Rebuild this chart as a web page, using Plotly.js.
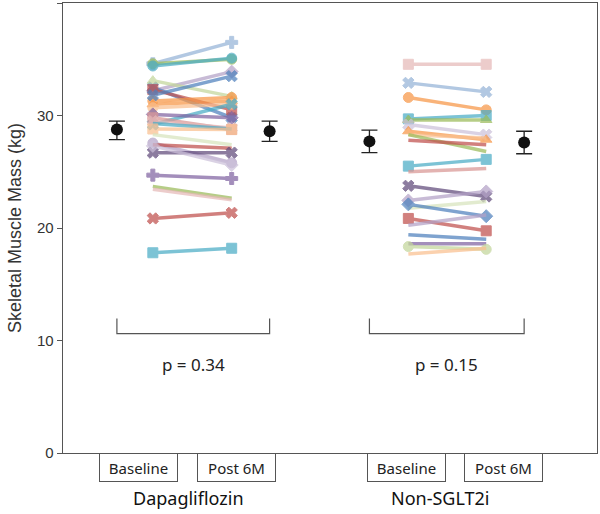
<!DOCTYPE html>
<html>
<head>
<meta charset="utf-8">
<script src="https://cdn.plot.ly/plotly-3.0.1.min.js"></script>
<style>html,body{margin:0;padding:0;background:#fff}#chart{width:600px;height:514px}</style>
</head>
<body>
<div id="chart"></div>
<script>
// ---- data ----
const groups = ['Dapagliflozin', 'Non-SGLT2i'];
const timepoints = ['Baseline', 'Post 6M'];

const dapaBaseline = [34.6, 34.6, 34.4, 32.2, 32.5, 33.1, 32.3, 31.3, 31.0, 30.7, 29.2, 30.1, 29.8, 29.5, 29.3, 28.8, 28.3, 27.55, 27.4, 26.7, 27.3, 24.7, 23.7, 23.45, 20.85, 17.8, 31.8];
const dapaPost     = [36.5, 35.0, 35.1, 33.9, 29.8, 31.7, 30.5, 31.6, 31.3, 31.0, 31.0, 29.8, 28.75, 28.9, 28.8, 28.75, 27.4, 25.8, 27.1, 26.7, 25.6, 24.4, 22.65, 22.5, 21.35, 18.2, 33.5];

const nonBaseline = [34.55, 32.9, 31.6, 29.7, 29.6, 29.2, 28.6, 28.3, 28.3, 27.8, 25.5, 25.0, 23.75, 22.45, 21.75, 22.1, 20.85, 20.25, 19.4, 18.6, 18.35, 17.7];
const nonPost     = [34.55, 32.1, 30.5, 30.0, 29.6, 28.3, 27.85, 28.0, 26.8, 27.4, 26.1, 25.3, 22.8, 23.25, 22.35, 21.05, 19.75, 21.15, 19.0, 18.6, 18.1, 18.2];

const meanDapa = [28.75, 28.6];
const errUpDapa = [0.75, 0.9];
const errDownDapa = [0.9, 0.9];
const meanNon = [27.7, 27.6];
const errUpNon = [1.0, 1.0];
const errDownNon = [1.0, 1.0];

const pValues = ['p = 0.34', 'p = 0.15'];
const yTicks = [0, 10, 20, 30, 40];

// ---- styles ----
const dapaColors = ['#95B3D7','#9BBB59','#4BACC6','#B3A2C7','#4F81BD','#C3D69B','#C0504D','#F79646','#F79646','#FAC090','#4BACC6','#8064A2','#D99694','#E6B9B8','#4BACC6','#FAC090','#D7E4BD','#B3A2C7','#C0504D','#604A7B','#CCC1DA','#8064A2','#9BBB59','#E6B9B8','#C0504D','#4BACC6','#4F81BD'];
const dapaSymbols = ['cross','circle','circle','diamond','x','triangle-up','square','circle','triangle-up','circle','x','diamond','square','x','none','square','none','circle','none','x','diamond','cross','none','none','x','square','x'];
const nonColors = ['#E6B9B8','#95B3D7','#F79646','#4BACC6','#9BBB59','#CCC1DA','#F79646','#FAC090','#9BBB59','#C0504D','#4BACC6','#D99694','#604A7B','#B3A2C7','#D7E4BD','#4F81BD','#C0504D','#B3A2C7','#4F81BD','#8064A2','#C3D69B','#FAC090'];
const nonSymbols = ['square','x','circle','square','triangle-up','x','triangle-up','none','none','none','square','none','x','diamond','none','diamond','square','none','none','none','circle','none'];

// x layout (axis units)
const pos = {
  meanBase: [54, 307],
  base: [90, 346],
  post: [169, 424],
  meanPost: [207, 462],
  boxBase: [75.5, 344],
  boxPost: [174, 441.5],
  label: [126, 378]
};

const traces = [];
function addLines(bases, posts, colors, symbols, gi) {
  for (let i = 0; i < bases.length; i++) {
    const sym = symbols[i];
    traces.push({
      x: [pos.base[gi], pos.post[gi]],
      y: [bases[i], posts[i]],
      type: 'scatter',
      mode: sym === 'none' ? 'lines' : 'lines+markers',
      line: {color: colors[i], width: 3.5},
      marker: {symbol: sym === 'none' ? 'circle' : sym, size: 10, color: colors[i],
               line: {color: colors[i], width: 1}},
      opacity: 0.72,
      cliponaxis: false
    });
  }
}
addLines(dapaBaseline, dapaPost, dapaColors, dapaSymbols, 0);
addLines(nonBaseline, nonPost, nonColors, nonSymbols, 1);

const means = [[meanDapa, errUpDapa, errDownDapa], [meanNon, errUpNon, errDownNon]];
means.forEach((m, gi) => {
  traces.push({
    x: [pos.meanBase[gi], pos.meanPost[gi]],
    y: m[0],
    type: 'scatter',
    mode: 'markers',
    marker: {color: '#111', size: 12},
    error_y: {type: 'data', symmetric: false, array: m[1], arrayminus: m[2],
              color: '#222', thickness: 1.3, width: 8}
  });
});

const shapes = [];
const annotations = [];
for (let gi = 0; gi < 2; gi++) {
  const x0 = pos.meanBase[gi], x1 = pos.meanPost[gi];
  shapes.push({
    type: 'path', xref: 'x', yref: 'y',
    path: `M ${x0} 11.95 L ${x0} 10.62 L ${x1} 10.62 L ${x1} 11.95`,
    line: {color: '#555', width: 1.2}
  });
  annotations.push({
    x: (x0 + x1) / 2, y: 7.9, xref: 'x', yref: 'y', text: pValues[gi], showarrow: false,
    font: {family: 'Noto Sans', size: 17, color: '#222'}
  });
  [[pos.boxBase[gi], timepoints[0]], [pos.boxPost[gi], timepoints[1]]].forEach(([bx, t]) => {
    annotations.push({
      x: bx, y: 0, xref: 'x', yref: 'paper', yanchor: 'top', text: t, showarrow: false,
      width: 75, height: 25, borderwidth: 1, borderpad: 1, bordercolor: '#555',
      font: {family: 'Noto Sans', size: 15, color: '#222'}
    });
  });
  annotations.push({
    x: pos.label[gi], y: 0, xref: 'x', yref: 'paper', yanchor: 'middle', yshift: -45,
    text: groups[gi], showarrow: false,
    font: {family: 'Noto Sans', size: 18, color: '#111'}
  });
}

const layout = {
  width: 600, height: 514,
  margin: {l: 63, r: 3, t: 3, b: 61},
  paper_bgcolor: '#fff', plot_bgcolor: '#fff',
  showlegend: false, hovermode: false,
  xaxis: {range: [0, 535], showticklabels: false, ticks: '', showgrid: false, zeroline: false,
          showline: true, mirror: true, linecolor: '#555', linewidth: 1.3, fixedrange: true},
  yaxis: {range: [0, 40], tickvals: yTicks, ticktext: yTicks.map(String), ticks: 'outside', ticklen: 5,
          tickcolor: '#555', showgrid: false, zeroline: false, showline: true, mirror: true,
          linecolor: '#555', linewidth: 1.3,
          tickfont: {family: 'Liberation Sans', size: 15, color: '#333'},
          title: {text: 'Skeletal Muscle Mass (kg)', standoff: 10,
                  font: {family: 'Liberation Sans', size: 18, color: '#333'}}},
  shapes: shapes,
  annotations: annotations
};

Plotly.newPlot('chart', traces, layout, {displayModeBar: false, staticPlot: true});
</script>
</body>
</html>
